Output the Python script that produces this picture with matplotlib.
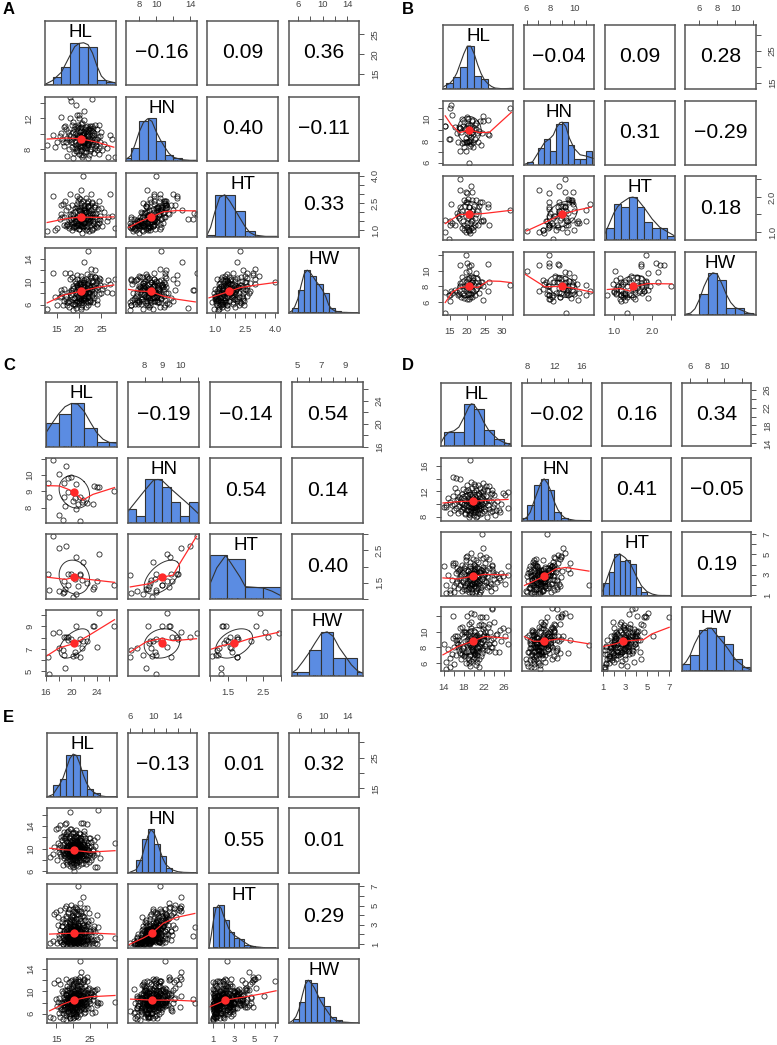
import numpy as np
import matplotlib
matplotlib.use("Agg")
import matplotlib.pyplot as plt

plt.rcParams['font.family'] = ['Liberation Sans', 'DejaVu Sans']

W = 777
H = 1045
NAMES = ["HL", "HN", "HT", "HW"]

A_POINTS = [
(20.8,10.0,4.0,10.0),(22.1,10.6,2.28,15.4),(18.0,14.8,1.9,11.5),(18.1,14.3,1.64,8.5),(22.9,14.5,1.92,8.55),(19.2,13.7,1.6,5.5),
(21.0,13.0,2.1,13.5),(12.8,8.5,0.97,5.3),(28.0,7.0,1.1,10.4),(26.6,7.0,1.75,10.3),(27.5,9.3,1.8,8.0),(14.0,9.8,2.9,11.5),
(14.5,8.3,1.0,7.4),(16.8,11.0,2.6,11.5),(15.8,12.2,2.4,8.6),(16.3,8.9,2.45,5.9),(18.0,12.0,3.0,10.5),(20.4,8.9,3.2,11.0),(23.5,11.1,2.4,12.0),
(22.7,10.5,3.0,12.2),(19.4,12.4,2.9,11.2),(20.0,12.4,2.75,9.8),(27.0,9.8,3.0,9.6),(24.5,11.2,2.6,10.6),(23.0,11.0,2.5,11.0),
(17.2,7.1,1.3,5.9),(18.5,6.9,1.15,5.0),(22.0,6.9,1.4,6.4),(23.3,7.5,1.1,7.2),(24.0,7.9,1.35,6.2),(20.6,8.0,0.85,6.4),
(16.5,8.4,1.3,6.6),(15.0,9.0,1.1,6.0),(15.6,9.7,1.6,7.3),(16.0,10.1,1.9,7.5),(17.1,10.6,2.1,7.0),(17.6,9.9,1.55,8.3),(18.2,9.0,1.45,7.7),
(18.7,10.3,1.85,8.9),(19.0,8.2,1.25,6.1),(19.1,9.1,1.5,7.2),(19.3,7.8,1.2,8.0),(19.5,10.7,2.3,9.5),(19.6,9.5,1.75,7.9),(19.7,8.7,1.4,8.7),
(19.8,11.2,2.2,9.0),(19.9,7.4,1.05,7.0),(20.0,9.9,1.9,8.2),(20.1,8.4,1.3,9.2),(20.2,10.2,2.05,8.8),(20.3,9.2,1.6,7.5),(20.3,7.7,1.5,6.8),
(20.5,10.9,2.5,9.9),(20.5,9.6,1.75,8.4),(20.6,8.6,1.25,7.8),(20.7,11.4,1.95,8.0),(20.8,9.1,1.85,9.4),(20.9,7.2,1.15,6.9),(21.0,10.0,2.2,7.3),
(21.1,8.3,1.4,8.6),(21.2,9.4,1.65,10.0),(21.3,10.6,2.15,9.1),(21.4,8.9,1.55,8.1),(21.5,7.6,1.0,7.6),(21.6,9.7,2.0,10.4),(21.7,11.0,1.75,9.6),
(21.8,8.1,1.2,8.9),(21.9,9.0,1.85,7.4),(22.0,10.3,2.35,10.2),(22.1,8.6,1.6,9.7),(22.2,9.5,1.45,8.3),(22.3,7.3,0.95,8.0),(22.4,10.8,1.95,9.0),
(22.6,9.2,2.1,10.6),(22.7,8.0,1.3,9.3),(22.9,9.9,1.7,7.7),(23.1,8.7,1.5,10.1),(23.3,10.1,2.25,9.5),(23.5,9.3,1.9,8.5),(23.7,8.4,1.25,9.8),
(24.0,10.6,1.6,10.3),(24.2,9.6,2.15,9.0),(24.5,8.2,1.4,7.9),(24.8,9.0,1.8,10.5),(25.2,7.9,1.2,8.8),(25.6,8.7,2.0,9.3),(26.2,8.1,1.5,8.2),
(16.6,10.9,1.7,8.8),(17.3,9.4,1.35,6.4),(17.8,8.0,1.1,6.7),(18.3,11.1,2.4,8.1),(18.6,9.6,1.65,9.2),(18.9,10.6,1.15,7.1),(19.2,8.5,1.7,9.8),
(19.4,9.8,2.45,6.6),(19.7,10.9,2.6,7.5),(20.0,8.8,1.05,6.3),(20.2,9.3,2.7,8.0),(20.4,10.5,1.35,5.6),(20.6,7.0,1.6,6.0),(20.9,10.3,2.6,8.6),
(21.1,9.6,1.25,7.1),(21.3,8.2,2.0,7.0),(21.6,10.4,2.75,8.4),(21.8,9.9,1.05,6.7),(22.0,8.8,2.35,7.5),(22.3,10.6,2.05,7.8),(22.5,7.8,1.55,6.5),
(22.8,9.4,2.55,9.9),(23.0,9.0,1.0,8.7),(23.2,10.8,1.4,9.3),(23.6,8.9,2.3,10.9),(24.1,9.3,1.15,6.9),(24.6,9.7,1.55,9.4),(25.0,10.2,2.2,8.1),
(18.4,9.3,1.0,7.0),(18.8,7.5,1.4,6.2),(19.0,10.0,2.0,10.2),(19.3,9.0,1.1,8.4),(19.6,8.1,1.55,9.0),(19.8,9.7,1.3,7.3),(20.1,10.7,1.65,9.6),
(20.4,8.3,1.95,7.0),(20.7,9.8,1.5,10.4),(21.0,8.8,2.35,9.0),(21.2,10.1,1.45,6.8),(21.5,9.2,1.15,8.2),(21.7,8.5,2.5,8.8),(22.1,9.7,2.6,9.2),
(22.4,8.9,1.7,6.6),(22.8,10.4,1.05,7.6),(23.4,9.8,1.35,8.0),(23.9,8.6,1.95,8.9),(16.2,9.3,1.75,8.0),(17.0,9.0,1.2,7.6),(17.5,10.2,2.25,6.5),
(21.0,7.6,1.4,10.3),(22.5,8.0,1.5,11.0),(19.5,7.7,1.3,10.5),(23.5,8.1,1.7,10.8),(20.3,7.2,1.2,9.6),(24.4,7.4,1.6,10.2),(18.3,8.3,1.35,10.9),(21.8,8.8,1.6,11.4),
(19.0,11.0,2.2,5.9),(20.5,11.3,2.3,6.3),(21.6,10.9,2.0,5.6),(18.5,11.5,1.9,6.2),(22.4,11.0,2.4,6.8),(20.0,12.0,2.1,6.7),(21.0,11.8,2.4,7.2),(23.2,10.3,1.9,6.4),
(17.6,9.2,1.2,5.6),(20.4,9.6,1.2,5.2),(21.9,9.3,1.6,5.9),(19.3,10.1,1.5,6.4),(20.8,9.0,1.4,8.9),(20.0,9.4,1.6,8.9),(21.2,8.9,2.0,8.4),(20.6,9.9,1.8,8.2),
]

B_POINTS = [
(32.3,11.0,1.62,8.15),(13.7,9.35,1.35,4.64),(20.5,6.0,1.03,10.0),(14.6,8.18,0.81,6.9),(18.0,9.2,2.5,8.0),
(13.6,9.4,1.0,7.3),(15.0,8.2,1.2,6.1),(15.0,11.0,1.3,6.9),(15.3,11.3,1.8,7.4),(15.6,10.4,1.25,7.1),
(17.8,7.06,2.2,10.7),(19.7,7.87,1.85,12.0),(19.9,7.87,2.1,11.0),(20.6,7.87,1.7,10.6),(21.0,8.74,2.3,10.7),(19.5,9.2,2.15,9.8),
(20.3,9.5,1.95,8.0),(21.3,9.9,2.15,8.5),(22.6,9.6,1.9,9.7),(24.6,9.85,1.35,8.1),(25.9,9.9,1.8,7.4),(26.0,8.6,1.7,10.8),(23.6,9.8,1.85,8.2),
(24.5,10.3,1.3,6.3),(24.0,7.6,1.3,8.6),(26.3,8.55,1.2,8.6),(16.5,9.3,1.2,7.5),(17.1,8.7,1.55,7.3),(17.6,9.3,1.4,7.0),
(18.0,9.2,1.7,8.4),(18.3,8.8,1.5,6.7),(18.5,7.8,1.1,8.0),(18.8,9.4,1.3,7.2),(19.0,7.4,1.05,7.7),(19.1,7.9,1.2,6.9),(19.3,9.1,1.75,8.1),
(19.5,8.3,1.45,8.5),(19.6,7.05,1.0,7.4),(19.8,8.7,1.6,7.8),(20.0,9.6,1.85,8.7),(20.0,7.9,1.15,6.4),(20.2,8.9,1.4,8.9),(20.4,8.5,1.05,7.2),
(20.5,9.2,1.7,9.1),(20.7,8.1,1.25,6.7),(20.8,7.5,0.98,8.3),(20.9,9.5,1.55,7.6),(21.0,8.4,1.45,9.3),(21.1,9.0,1.1,8.0),(21.2,7.7,1.3,7.0),
(21.3,9.3,1.6,8.6),(21.4,8.8,1.35,6.6),(21.5,9.8,1.9,7.5),(21.6,7.4,1.05,8.8),(21.8,8.6,1.15,9.1),(22.0,9.2,1.75,8.2),(22.2,8.2,1.4,8.5),
(22.5,9.1,1.5,7.7),(22.7,8.7,1.6,9.0),(23.0,7.9,1.2,8.0),(23.4,8.9,1.75,7.1),(24.2,8.7,1.85,8.6),(17.4,7.9,1.45,6.9),(18.6,10.0,1.6,9.2),
(19.2,9.7,1.9,6.5),(19.9,10.2,1.25,8.3),(20.3,10.0,1.05,7.0),(20.6,8.0,1.55,6.35),(21.7,7.9,1.65,7.4),(22.3,9.5,1.2,6.9),
]

C_POINTS = [
(17.1,10.95,2.93,8.4),(24.3,9.25,2.40,10.2),(16.5,8.65,1.30,4.8),(26.8,9.0,1.45,9.0),(18.7,7.25,1.20,6.9),(18.0,7.55,1.26,7.1),
(21.4,7.2,1.76,6.3),(19.2,10.55,2.64,8.1),(18.0,10.05,2.56,8.5),(20.7,9.45,2.30,9.0),(21.8,8.47,2.15,7.7),(20.0,9.9,1.79,7.9),
(19.5,9.8,1.77,8.1),(18.9,9.55,1.55,8.05),(16.3,9.5,1.77,6.3),(20.5,8.6,1.62,6.7),(21.3,8.65,1.77,7.9),(21.7,8.35,1.59,7.1),
(22.4,8.3,1.5,7.7),(21.0,8.25,1.4,7.55),(19.0,8.1,1.32,5.3),(23.4,8.2,1.33,9.0),(23.6,9.35,1.38,9.0),(24.0,9.25,1.55,7.2),
(20.7,7.9,1.16,6.5),(20.3,8.4,1.06,6.4),(18.9,8.65,1.23,6.5),(19.4,8.95,1.45,7.8),
]

D_POINTS = [
(19.3,17.0,2.0,8.3),(21.6,10.9,7.0,11.8),(21.9,13.3,5.6,9.4),(26.9,9.3,3.9,8.4),(14.0,9.5,3.9,8.4),(15.8,14.3,4.1,12.0),(16.4,14.2,3.2,9.0),(17.2,14.0,3.6,7.3),
(14.5,9.9,1.2,5.3),(15.2,8.6,1.2,5.5),(16.0,9.0,1.3,5.9),(14.4,9.6,2.0,6.2),(15.6,9.8,2.5,7.2),(15.9,11.3,4.0,9.2),(16.7,11.9,3.7,9.4),(16.2,12.5,4.1,9.5),
(16.6,10.6,2.4,8.6),(17.3,10.3,2.0,10.4),(17.6,11.6,3.3,10.6),(18.1,9.4,1.6,6.9),(18.4,12.0,4.7,10.0),(18.7,13.0,4.8,12.0),(19.1,8.0,1.3,6.1),(19.4,13.5,5.1,12.3),
(20.1,13.1,3.4,12.2),(20.5,7.9,1.4,6.6),(20.7,8.1,2.4,7.4),(21.0,9.0,1.1,5.5),(21.3,12.5,4.9,11.9),(21.8,12.1,4.6,10.8),(22.5,12.9,4.7,11.8),(23.1,12.8,4.5,11.0),
(23.6,11.7,3.9,13.0),(23.7,12.3,3.6,12.8),(24.3,8.3,1.7,7.4),(25.0,9.1,2.7,7.4),(25.3,8.8,2.5,10.2),(25.9,11.8,2.9,10.5),(26.2,11.5,2.1,9.4),(26.9,11.9,3.0,10.2),
(25.5,10.0,3.2,8.8),(24.7,10.5,2.3,9.7),(24.1,11.4,3.0,8.6),(23.8,9.5,3.3,9.2),(23.3,8.7,2.2,9.9),(23.0,10.7,1.9,8.4),(22.8,9.8,2.8,10.6),(22.5,11.2,3.5,9.5),
(22.3,10.2,3.1,8.2),(22.1,8.9,2.0,9.6),(21.9,11.5,3.8,10.3),(21.7,10.0,2.6,7.3),(21.5,9.4,1.8,8.7),(21.3,11.0,3.3,9.8),(21.1,10.5,2.9,10.8),(20.9,8.5,1.7,7.9),
(20.8,11.8,4.2,8.9),(20.6,10.2,3.0,7.0),(20.5,9.6,2.2,9.2),(20.3,11.3,3.6,9.9),(20.2,10.8,2.7,8.4),(20.1,9.1,1.9,6.8),(20.0,11.9,4.0,10.1),(19.9,10.4,3.2,8.0),
(19.8,8.8,2.5,7.5),(19.7,9.9,2.1,9.0),(19.6,11.1,2.9,7.8),(19.5,10.0,3.5,10.5),(19.4,9.3,1.6,8.1),(19.3,11.6,3.9,9.4),(19.2,10.7,2.4,7.1),(19.1,9.7,3.1,8.6),
(19.0,8.4,1.8,6.4),(18.9,10.9,2.8,9.7),(18.8,10.1,3.4,7.6),(18.7,9.0,2.2,8.3),(18.6,11.4,3.0,8.9),(18.4,9.8,1.5,6.0),(18.3,10.6,2.6,9.9),(18.2,8.6,2.0,7.0),
(18.0,11.0,3.7,8.2),(17.8,9.5,2.3,8.0),(17.6,10.2,1.4,7.2),(17.4,8.9,3.0,6.6),(17.1,9.7,2.7,7.7),(16.9,10.8,1.7,8.1),(16.4,9.4,2.2,7.0),(15.3,10.3,1.5,6.7),
(14.9,11.0,3.0,7.8),(20.4,12.2,3.3,7.6),(20.0,8.3,3.6,9.6),(19.6,12.6,2.1,8.8),(21.2,9.9,1.3,8.0),(21.6,8.6,3.0,7.9),(22.0,12.4,2.4,9.0),(22.7,8.0,2.9,9.3),
(23.4,10.4,1.4,8.9),(24.5,9.0,3.1,9.6),(24.0,10.0,2.6,11.2),(23.0,9.2,3.7,7.6),(18.5,10.4,4.4,7.4),(18.2,11.2,1.9,7.3),(19.2,8.2,3.2,5.7),(19.8,9.3,4.5,6.5),
(20.3,8.8,1.2,7.2),(20.7,10.6,3.8,6.2),(21.0,11.6,2.2,6.6),(21.4,10.3,3.5,11.0),(19.5,10.6,1.9,11.2),(19.0,11.9,2.5,10.9),(20.0,10.0,2.3,7.4),(20.6,9.2,2.8,8.1),
(18.9,9.1,3.4,9.1),(19.3,10.2,2.6,8.5),(19.9,11.0,3.1,8.3),(20.2,9.5,3.9,9.3),(20.8,10.0,2.0,8.8),(21.5,10.6,3.2,9.1),(19.6,9.6,1.2,7.7),(18.1,10.0,3.1,10.0),
(17.0,11.1,3.5,8.9),(16.0,10.0,1.9,8.1),(19.4,8.6,2.9,8.9),(20.1,9.8,3.4,7.2),(20.5,11.0,1.7,9.5),(21.1,9.3,2.5,9.3),(21.8,9.6,3.6,7.7),(22.4,10.5,2.3,8.5),
(18.3,8.4,3.9,8.8),(19.2,8.9,4.2,10.1),(20.4,9.0,4.4,9.0),(21.3,8.4,3.3,8.6),(22.2,9.2,4.1,10.0),(23.6,8.9,4.0,8.0),(17.7,9.2,4.0,9.7),(16.8,8.6,3.4,8.4),
(18.9,12.3,1.6,6.7),(20.2,12.8,1.9,7.3),(21.4,11.9,1.5,6.9),(22.6,12.3,1.8,7.7),(19.7,11.5,1.3,8.2),(23.4,11.6,2.1,8.1),(17.9,12.4,2.5,7.9),(20.9,13.0,2.8,9.1),
(19.4,9.0,2.7,6.3),(20.5,9.9,2.6,5.8),(20.0,9.5,3.0,8.6),(20.7,10.3,2.4,9.6),(19.5,10.4,2.2,9.2),(21.0,9.7,3.3,8.2),(19.1,10.3,3.0,9.3),(20.3,10.7,3.2,8.7),
]

E_POINTS = [
(21.5,11.0,7.0,11.8),(22.2,11.8,2.3,15.4),(19.2,16.5,1.8,8.6),(32.5,11.0,1.65,8.15),(27.5,16.9,2.75,8.0),(22.5,14.6,4.4,13.5),(22.8,14.5,5.9,9.2),
(13.0,8.5,1.1,5.4),(14.0,9.0,1.3,5.2),(14.2,10.3,4.1,11.5),(15.0,13.4,4.3,8.6),(15.6,13.7,3.8,12.0),(16.2,14.2,4.5,11.4),(17.5,14.3,4.8,7.2),(18.0,14.6,5.0,12.2),
(18.6,13.2,4.2,10.3),(19.4,13.5,5.1,10.7),(16.0,9.0,1.3,5.5),(17.0,7.1,1.0,5.0),(18.0,7.6,1.0,4.9),(19.0,6.9,1.0,5.3),(20.2,6.0,1.1,6.5),(21.0,7.1,1.4,5.6),
(26.5,6.8,1.1,6.3),(27.2,6.7,1.0,10.4),(28.0,8.4,1.7,7.9),(27.0,12.0,4.0,7.6),(26.2,11.5,2.9,10.1),(25.7,9.0,1.3,6.2),(24.0,14.4,4.8,12.5),(23.2,12.6,4.8,12.0),
(20.6,12.7,4.9,12.3),(21.0,13.3,4.7,11.7),(22.0,12.6,5.3,12.6),(24.7,11.8,4.2,10.6),(25.2,10.5,3.5,9.7),(26.0,9.6,2.4,9.2),(26.5,10.4,2.2,10.2),(27.0,9.2,1.5,8.2),
(15.7,9.4,1.6,6.1),(16.1,10.6,2.5,7.3),(16.4,8.7,1.2,6.6),(16.7,11.5,2.9,8.0),(16.9,12.3,3.6,7.6),(17.1,9.7,1.8,6.2),(17.2,10.8,2.1,9.0),(17.4,8.3,1.4,6.9),
(17.6,11.9,3.2,8.7),(17.7,9.3,1.5,7.5),(17.9,10.3,1.9,5.8),(18.0,12.5,3.7,9.6),(18.1,8.0,1.1,7.0),(18.2,9.9,2.4,8.3),(18.3,11.1,2.7,7.7),(18.4,8.8,1.3,6.4),
(18.5,10.5,2.0,9.0),(18.6,9.2,1.6,7.9),(18.7,12.0,3.4,8.5),(18.8,7.8,1.2,6.0),(18.9,10.0,1.8,8.1),(19.0,11.3,2.9,7.2),(19.0,8.5,1.5,9.4),(19.1,9.6,1.3,6.8),
(19.2,10.9,3.1,9.9),(19.3,7.4,1.0,7.6),(19.4,12.2,2.6,8.4),(19.4,9.0,2.1,5.9),(19.5,10.3,1.7,8.8),(19.6,8.2,1.4,7.3),(19.6,11.6,3.5,10.5),(19.7,9.4,1.1,8.0),
(19.8,10.7,2.3,6.6),(19.8,8.7,2.0,9.1),(19.9,12.8,4.0,9.4),(19.9,9.8,1.5,7.8),(20.0,7.7,1.2,8.6),(20.0,11.0,2.8,10.9),(20.1,9.1,1.9,6.9),(20.1,10.1,1.3,8.5),
(20.2,8.4,1.6,10.0),(20.2,11.9,3.8,8.2),(20.3,9.7,2.2,7.4),(20.3,7.2,1.1,9.2),(20.4,10.5,2.5,8.9),(20.4,8.9,1.4,6.1),(20.5,12.3,3.0,9.8),(20.5,9.3,1.8,8.3),
(20.6,10.8,1.6,7.1),(20.6,8.1,1.0,7.7),(20.7,11.4,4.3,10.2),(20.7,9.9,2.0,9.0),(20.8,8.6,1.3,8.7),(20.8,10.2,2.7,5.6),(20.9,7.9,1.5,6.7),(20.9,11.7,3.3,9.5),
(21.0,9.5,1.2,8.1),(21.0,10.6,2.1,7.9),(21.1,8.8,1.7,9.7),(21.1,12.1,3.6,8.4),(21.2,9.2,2.4,7.0),(21.2,10.0,1.4,10.7),(21.3,7.6,1.1,8.8),(21.3,11.2,2.6,6.3),
(21.4,9.6,1.9,8.6),(21.4,8.3,1.3,7.5),(21.5,10.4,3.2,9.3),(21.6,12.0,4.1,10.4),(21.6,9.0,1.6,8.0),(21.7,10.9,2.2,11.0),(21.7,8.5,1.0,7.2),(21.8,9.8,1.8,9.6),
(21.9,11.5,2.9,9.0),(21.9,7.8,1.4,6.5),(22.0,10.1,2.3,8.3),(22.0,9.3,1.2,10.1),(22.1,8.9,1.5,7.8),(22.2,10.7,3.4,9.1),(22.3,9.5,2.0,11.3),(22.3,8.0,1.7,8.9),
(22.4,11.3,2.7,8.0),(22.5,9.1,1.1,9.4),(22.6,10.3,2.5,7.3),(22.7,8.6,1.9,10.6),(22.8,12.2,3.9,8.7),(22.9,9.7,1.3,8.5),(23.0,7.5,1.2,9.0),(23.0,10.8,3.0,10.0),
(23.1,9.0,1.6,7.6),(23.2,11.1,2.1,9.7),(23.3,8.4,1.4,8.2),(23.4,10.2,2.6,11.0),(23.5,9.4,1.0,6.9),(23.6,11.8,3.5,9.9),(23.7,8.7,1.8,8.8),(23.8,9.9,2.2,10.3),
(23.9,7.3,1.1,7.4),(24.0,10.6,1.5,9.2),(24.1,9.2,2.9,8.1),(24.2,8.2,1.3,9.8),(24.3,11.0,3.1,7.1),(24.5,9.6,1.7,10.4),(24.6,8.8,2.0,8.6),(24.8,10.3,1.2,9.0),
(25.0,9.3,2.4,8.0),(25.2,7.9,1.5,7.0),(25.4,11.2,1.8,9.6),(25.6,8.5,1.1,10.3),(25.8,9.9,2.6,8.4),(26.1,8.9,1.4,9.2),(24.4,9.8,3.4,9.5),(23.3,10.9,3.8,8.6),
(22.1,11.6,3.7,7.5),(21.2,11.0,4.6,8.9),(20.4,11.2,4.4,7.6),(19.6,10.6,3.9,9.2),(18.9,11.8,4.6,8.0),(17.8,11.4,3.9,9.3),(16.6,10.3,3.3,10.0),(15.4,11.0,3.0,8.2),
(15.2,8.0,1.1,7.4),(15.9,10.1,1.9,8.8),(17.3,12.9,2.3,6.7),(18.3,7.2,1.7,8.9),(19.1,8.0,2.5,8.8),(19.7,7.1,1.6,7.1),(20.1,6.7,1.3,6.2),(20.8,7.4,2.0,8.3),
(21.5,6.9,1.1,7.9),(22.4,7.2,1.3,7.0),(23.5,8.0,2.1,6.3),(24.7,7.6,1.0,8.3),(20.0,9.4,3.0,8.0),(20.3,10.3,3.3,9.6),(20.6,9.0,2.6,7.3),(21.0,9.9,2.8,8.9),
(21.3,8.6,2.2,9.4),(21.6,10.7,3.0,7.7),(19.3,9.5,2.7,7.5),(19.5,8.9,2.3,9.8),(18.8,9.4,2.1,10.7),(18.4,10.1,2.9,6.5),(19.0,10.4,3.3,7.0),(22.6,9.9,3.2,8.9),
(23.1,10.0,2.8,6.8),(22.0,8.4,2.3,10.9),(20.9,10.5,3.6,8.0),(20.5,7.9,1.9,9.5),(21.8,9.1,2.6,6.7),(19.9,8.5,2.4,10.8),(20.2,10.9,1.2,11.5),(21.1,8.0,1.2,11.2),
(19.4,11.1,1.5,11.9),(18.1,10.7,1.3,10.9),(22.9,8.3,1.0,11.6),(24.2,10.0,1.4,11.9),(17.0,9.2,1.0,9.7),(17.6,8.6,1.9,10.3),(23.9,8.9,2.5,7.7),(20.7,8.7,2.9,6.0),
(17.3,11.9,1.2,8.1),(18.0,12.2,1.5,9.3),(19.2,11.9,1.8,7.4),(20.8,12.3,2.0,8.8),(22.3,11.9,1.6,10.0),(23.9,11.4,1.4,7.9),(24.9,11.9,2.3,9.1),(16.3,12.1,2.0,7.9),
(18.2,12.9,1.4,7.0),(20.0,13.0,1.9,6.5),(21.7,12.8,2.4,9.7),(23.3,13.2,3.0,7.9),(19.0,13.5,2.7,8.9),(21.2,11.3,1.1,6.9),(22.8,10.9,1.3,7.4),(18.5,11.0,1.2,9.8),
(17.9,9.0,2.6,8.0),(19.1,8.7,3.2,9.2),(20.3,8.6,3.5,8.0),(21.5,8.9,3.0,9.9),(22.7,9.4,3.9,7.7),(23.8,8.2,2.9,9.4),(18.3,8.5,3.3,10.2),(19.7,8.0,3.8,8.4),
(16.8,9.8,2.9,6.9),(17.3,8.9,2.4,8.2),(20.9,9.5,4.1,7.3),(21.9,9.9,4.4,10.3),(20.0,9.9,4.6,9.0),(18.6,10.2,4.3,7.2),(22.5,10.5,4.2,8.1),(19.4,9.3,3.6,8.6),
(20.4,9.2,1.2,5.4),(19.2,9.9,1.6,5.2),(21.6,9.4,1.9,5.5),(22.0,10.8,1.2,6.0),(18.7,9.0,1.1,5.6),(23.2,9.6,1.7,6.1),(19.9,10.5,2.0,5.3),(21.0,8.9,2.4,5.9),
(17.8,9.6,1.3,6.2),(20.6,11.2,1.9,11.9),(22.2,8.8,1.9,11.9),(19.7,10.2,2.2,12.1),(18.8,9.1,1.6,11.6),(21.4,9.8,2.7,12.2),(23.1,10.4,2.1,12.3),(20.1,8.2,2.6,11.3),
(20.1,9.7,1.5,8.4),(20.4,9.5,2.0,8.1),(20.7,10.0,1.8,8.6),(19.8,9.9,1.6,8.7),(19.5,9.5,2.1,8.3),(20.9,9.2,1.5,8.9),(21.2,9.7,2.4,8.4),(19.2,10.1,2.0,8.0),
(19.9,9.2,1.4,9.1),(20.6,10.4,2.3,7.6),(21.1,10.2,1.7,7.7),(20.2,10.6,1.8,9.1),(19.6,9.0,1.8,7.9),(20.8,9.7,2.5,9.3),(21.6,10.2,1.4,8.3),(18.9,9.7,2.5,8.7),
]

# histogram breaks and bar heights (share of the cell height)
A_BREAKS = [list(range(12, 30, 2)), list(range(6, 16)), [0.5, 1, 1.5, 2, 2.5, 3, 3.5, 4, 4.5], list(range(5, 15))]
A_BARS = [[.02, .12, .28, .66, .60, .60, .08, .05], [.05, .2, .62, .67, .32, .1, .04, .01, .02],
          [.03, .66, .66, .40, .10, .015, .005, .005], [.07, .36, .66, .57, .445, .3, .07, .025, .01]]
B_BREAKS = [list(range(12, 36, 2)), [5.5, 6, 6.5, 7, 7.5, 8, 8.5, 9, 9.5, 10, 10.5, 11, 11.5],
            [.8, 1, 1.2, 1.4, 1.6, 1.8, 2, 2.2, 2.4, 2.6], list(range(4, 13))]
B_BARS = [[.02, .09, .18, .34, .67, .21, .16, .01, 0, 0, .01], [0, .04, 0, .27, .40, .22, .64, .67, .31, .09, .09, .22],
          [.18, .57, .52, .67, .52, .28, .18, .18, .06], [.02, 0, .33, .67, .56, .11, .11, .03]]
C_BREAKS = [list(range(16, 30, 2)), [7, 7.5, 8, 8.5, 9, 9.5, 10, 10.5, 11], [1, 1.5, 2, 2.5, 3], list(range(4, 12))]
C_BARS = [[.37, .51, .67, .30, .07, .07], [.22, .11, .67, .67, .55, .33, .11, .33],
          [.67, .61, .18, .18], [.06, .06, .4, .67, .27, .27, .06]]
D_BREAKS = [list(range(12, 30, 2)), list(range(7, 18)), [1, 1.5, 2, 2.5, 3, 3.5, 4, 4.5, 5, 5.5, 6, 6.5, 7], list(range(5, 14))]
D_BARS = [[.0, .23, .23, .67, .58, .26, .11, .04], [.04, .25, .57, .67, .5, .14, .05, .01, .005, .005],
          [.2, .37, .66, .54, .57, .5, .14, .07, .02, .01, 0, .01], [.11, .25, .64, .67, .54, .42, .19, .07]]
E_BREAKS = [list(range(12, 30, 2)), list(range(6, 14)), [1, 1.5, 2, 2.5, 3, 3.5, 4, 4.5, 5, 5.5], list(range(5, 15))]
E_BARS = [[.01, .18, .28, .66, .66, .42, .12, .06], [.015, .2, .52, .67, .45, .26, .07],
          [.64, .67, .44, .25, .16, .14, .05, .03, .01], [.07, .33, .67, .62, .4, .26, .1, .04, .01]]

# density curves over the histograms
A_CURVE_X = [[12.3, 14, 16, 18, 19, 20, 21, 22, 23, 24, 25, 26, 28.3], [6.5, 7, 7.5, 8, 8.5, 9, 9.5, 10, 10.5, 11, 11.5, 12, 13, 14, 14.8],
             [.62, .8, 1, 1.25, 1.5, 1.75, 2, 2.25, 2.5, 2.75, 3, 3.5, 4.1], [4.6, 5, 5.5, 6, 6.5, 7, 7.5, 8, 8.5, 9, 9.5, 10, 10.5, 11, 11.5, 12, 13, 15.8]]
A_CURVE_Y = [[.01, .07, .2, .47, .6, .65, .66, .63, .5, .3, .14, .07, .03], [.03, .08, .25, .45, .6, .66, .62, .46, .33, .22, .12, .06, .02, .01, .01],
             [.03, .15, .38, .62, .66, .56, .43, .3, .17, .07, .03, .01, .01], [.01, .03, .1, .22, .42, .6, .66, .62, .55, .48, .42, .35, .25, .12, .06, .03, .01, .005]]
B_CURVE_X = [[13, 14, 15, 16, 17, 18, 19, 20, 21, 22, 23, 24, 25, 26, 27, 28, 30, 33], [5.8, 6.5, 7, 7.5, 8, 8.25, 8.5, 8.8, 9, 9.3, 9.6, 10, 10.5, 11, 11.67],
             [.77, .9, 1, 1.1, 1.2, 1.4, 1.5, 1.6, 1.8, 2, 2.2, 2.4, 2.6], [4.38, 5, 5.5, 6, 6.5, 7, 7.5, 8, 8.5, 9, 9.5, 10, 10.5, 11, 11.5, 12.3]]
B_CURVE_Y = [[.03, .06, .09, .15, .25, .4, .55, .67, .67, .55, .38, .24, .14, .08, .04, .015, .005, .01], [.01, .05, .2, .35, .42, .47, .58, .66, .67, .6, .42, .26, .16, .14, .1],
             [.1, .28, .42, .52, .58, .66, .67, .65, .5, .33, .2, .13, .06], [.01, .03, .1, .25, .45, .6, .67, .65, .5, .33, .2, .12, .09, .06, .03, .01]]
C_CURVE_X = [[16, 17, 18, 19, 20, 21, 22, 23, 24, 25, 26, 27.2], [7.06, 7.5, 8, 8.5, 8.75, 9, 9.5, 10, 10.5, 11],
             [1, 1.2, 1.45, 1.6, 1.85, 2, 2.25, 2.5, 2.75, 3], [4.6, 5, 5.5, 6, 6.5, 7, 7.5, 8, 8.5, 9, 9.5, 10, 10.46]]
C_CURVE_Y = [[.22, .37, .51, .62, .67, .66, .55, .38, .22, .12, .07, .06], [.18, .33, .5, .66, .67, .65, .52, .4, .28, .15],
             [.22, .48, .67, .55, .34, .19, .18, .17, .12, .05], [.05, .1, .22, .35, .5, .64, .67, .6, .43, .3, .17, .08, .04]]
D_CURVE_X = [[13.4, 14, 15, 16, 17, 18, 19, 19.5, 20, 21, 22, 23, 24, 25, 26, 27.5], [7.3, 8, 8.5, 9, 9.5, 10, 10.5, 11, 11.5, 12, 12.5, 13, 13.5, 14, 15, 17.3],
             [.9, 1, 1.5, 2, 2.5, 3, 3.5, 4, 4.5, 5, 5.5, 6, 7.2], [5.04, 5.5, 6, 6.5, 7, 7.5, 8, 8.5, 9, 9.5, 10, 10.5, 11, 11.5, 12, 12.5, 13.1]]
D_CURVE_Y = [[.05, .14, .22, .24, .3, .45, .62, .67, .66, .55, .38, .25, .17, .1, .06, .02], [.01, .06, .14, .3, .45, .6, .67, .6, .47, .3, .18, .1, .05, .03, .01, .005],
             [.07, .1, .34, .58, .66, .6, .5, .32, .16, .07, .03, .01, .005], [.08, .14, .25, .42, .55, .63, .67, .67, .58, .5, .42, .33, .23, .15, .1, .05, .02]]
E_CURVE_X = [[12.2, 14, 15, 16, 17, 18, 19, 20, 21, 22, 23, 24, 25, 26, 27, 28, 30, 33], [5.7, 7, 7.5, 8, 8.5, 9, 9.5, 10, 10.5, 11, 11.5, 12, 13, 14, 15, 17],
             [.58, .8, 1, 1.25, 1.5, 1.75, 2, 2.5, 3, 3.5, 4, 4.5, 5, 6, 7], [4.36, 5, 5.5, 6, 6.5, 7, 7.5, 8, 8.5, 9, 9.5, 10, 10.5, 11, 11.5, 12, 13, 15.8]]
E_CURVE_Y = [[0, .04, .12, .2, .3, .45, .6, .67, .65, .52, .35, .22, .13, .08, .05, .02, .005, .005], [0, .05, .13, .25, .42, .57, .67, .62, .5, .35, .22, .13, .05, .02, .01, .005],
             [0, .2, .42, .62, .67, .62, .5, .3, .2, .15, .09, .04, .02, .005, .005], [0, .04, .1, .22, .42, .6, .67, .62, .55, .45, .35, .27, .2, .13, .07, .04, .015, 0]]

# correlations in order HL-HN, HL-HT, HL-HW, HN-HT, HN-HW, HT-HW
A_R = ["\u22120.16", "0.09", "0.36", "0.40", "\u22120.11", "0.33"]
B_R = ["\u22120.04", "0.09", "0.28", "0.31", "\u22120.29", "0.18"]
C_R = ["\u22120.19", "\u22120.14", "0.54", "0.54", "0.14", "0.40"]
D_R = ["\u22120.02", "0.16", "0.34", "0.41", "\u22120.05", "0.19"]
E_R = ["\u22120.13", "0.01", "0.32", "0.55", "0.01", "0.29"]

# red smooth lines, same order of pairs
A_SMOOTH = [([12.8, 17.2, 20.3, 24, 27.8], [9.32, 9.45, 9.36, 8.92, 8.26]), ([12.8, 17.2, 20.3, 24, 27.8], [1.42, 1.64, 1.72, 1.70, 1.73]),
            ([12.8, 16.4, 20.3, 24, 27.8], [6.32, 7.67, 8.31, 9.01, 9.43]), ([6.77, 8.08, 9.34, 10.85, 12.43, 14.6], [1.15, 1.46, 1.72, 2.01, 2.08, 2.06]),
            ([6.77, 8.08, 9.34, 10.85, 12.43, 14.6], [8.66, 8.37, 8.31, 7.49, 6.96, 6.49]), ([.72, 1.25, 1.72, 2.25, 3.08, 4.08], [7.2, 7.78, 8.31, 8.96, 9.43, 9.9])]
B_SMOOTH = [([13.65, 15.4, 17.8, 20.6, 23.6, 26.4, 29.8, 32.7], [10.3, 9.47, 8.76, 9.0, 8.76, 8.79, 9.78, 10.62]), ([13.65, 17.8, 20.6, 25, 32.7], [1.24, 1.5, 1.5, 1.53, 1.62]),
            ([13.65, 15.8, 18.2, 20.6, 23.1, 26, 29.4, 32.7], [5.96, 7.32, 7.86, 8, 7.86, 8.68, 8.64, 8.47]), ([6, 7.54, 8.93, 10.2, 11.45], [1.03, 1.27, 1.5, 1.62, 1.71]),
            ([5.9, 7.54, 8.93, 10.05, 11.59], [9.5, 7.94, 8, 7.73, 7.24]), ([.83, 1.17, 1.43, 1.52, 1.87, 2.52], [7.6, 7.73, 7.4, 7.94, 8.35, 8.31])]
C_SMOOTH = [([16.1, 18.1, 19.4, 20.47, 21.8, 23.4, 26.8], [9.36, 9.34, 9.15, 8.97, 8.47, 8.82, 9.24]), ([16.1, 19.1, 20.47, 22.3, 26.8], [1.68, 1.61, 1.68, 1.62, 1.52]),
            ([16.1, 18.1, 20.47, 22.6, 26.8], [6.38, 7.1, 7.49, 8.15, 9.6]), ([7.19, 8.28, 8.96, 9.6, 9.98, 10.92], [1.38, 1.48, 1.68, 1.74, 2.1, 2.93]),
            ([7.19, 8.09, 8.96, 9.6, 10.92], [6.74, 7.64, 7.94, 7.73, 7.91]), ([1.03, 1.39, 1.7, 2.14, 2.93], [6.98, 7.34, 7.49, 7.94, 8.48])]
D_SMOOTH = [([13.8, 16.8, 19.77, 23.5, 26.9], [10.16, 10.37, 10.47, 10.58, 10.73]), ([13.8, 16.8, 19.77, 22.2, 26.9], [2.68, 2.58, 2.84, 3.03, 2.97]),
            ([13.8, 16.8, 19.77, 22.2, 26.9], [7.08, 8.13, 8.79, 9.38, 9.17]), ([7.66, 9.0, 10.46, 12.14, 13.6, 17], [1.94, 2.35, 2.84, 3.55, 3.71, 3.35]),
            ([7.66, 9, 10.46, 12.6, 17], [9.38, 8.79, 8.79, 9.08, 8.46]), ([1.06, 2.12, 2.85, 4.7, 5.45, 7.03], [8.13, 8.46, 8.79, 9, 9.71, 10.54])]
E_SMOOTH = [([13, 17, 20.2, 25, 32.5], [10.06, 9.82, 9.69, 9.38, 9.63]), ([13, 20.2, 26, 32.5], [2.03, 2.13, 2.13, 2.03]),
            ([13, 17, 20.2, 25, 32.5], [6.54, 7.73, 8.45, 9.05, 9.28]), ([5.83, 8.22, 9.72, 11.56, 13.78, 16.83], [.93, 1.62, 2.13, 3.16, 3.77, 4.18]),
            ([6.1, 9.72, 13.2, 16.83], [8.63, 8.45, 8.45, 8.27]), ([.65, 1.51, 2.19, 3.92, 5.52, 7.06], [7.25, 7.91, 8.45, 8.99, 9.52, 10.12])]

# mean and spread of each variable, for the red dots and the ellipses
A_MEAN = [20.3, 9.34, 1.72, 8.31]
A_SD = [2.7, 1.3, 0.5, 1.6]
B_MEAN = [20.6, 9.0, 1.5, 8.0]
B_SD = [3.4, 1.25, 0.37, 1.4]
C_MEAN = [20.47, 8.97, 1.68, 7.49]
C_SD = [2.4, 1.0, 0.52, 1.3]
D_MEAN = [19.77, 10.47, 2.84, 8.8]
D_SD = [2.8, 1.4, 1.0, 1.7]
E_MEAN = [20.2, 9.69, 2.13, 8.45]
E_SD = [2.8, 1.4, 0.9, 1.6]

# axis limits and ticks
A_LIM = [(12.3, 28.3), (6.46, 14.8), (0.62, 4.15), (4.56, 15.87)]
B_LIM = [(13.0, 33.2), (5.78, 11.67), (0.77, 2.6), (4.38, 12.34)]
C_LIM = [(16.0, 27.2), (7.06, 11.06), (1.01, 3.0), (4.6, 10.46)]
D_LIM = [(13.4, 27.5), (7.3, 17.3), (0.9, 7.2), (5.04, 13.1)]
E_LIM = [(12.2, 33.1), (5.67, 17.2), (0.58, 7.25), (4.36, 15.8)]

A_TICKS = [[15, 20, 25], [8, 10, 12, 14], [1.0, 1.5, 2.0, 2.5, 3.0, 3.5, 4.0], [6, 8, 10, 12, 14]]
B_TICKS = [[15, 20, 25, 30], [6, 7, 8, 9, 10, 11], [1.0, 1.5, 2.0, 2.5], [6, 8, 10, 12]]
C_TICKS = [[16, 18, 20, 22, 24, 26], [8, 9, 10, 11], [1.0, 1.5, 2.0, 2.5, 3.0], [5, 6, 7, 8, 9, 10]]
D_TICKS = [[14, 16, 18, 20, 22, 24, 26], [8, 10, 12, 14, 16], [1, 2, 3, 4, 5, 6, 7], [6, 8, 10, 12]]
E_TICKS = [[15, 20, 25, 30], [6, 8, 10, 12, 14, 16], [1, 2, 3, 4, 5, 6, 7], [6, 8, 10, 12, 14]]

# labels on the x side (bottom/top) and on the y side (left/right)
A_XLAB = [["15", "20", "25"], ["8", "10", "14"], ["1.0", "2.5", "4.0"], ["6", "10", "14"]]
A_YLAB = [["15", "20", "25"], ["8", "12"], ["1.0", "2.5", "4.0"], ["6", "10", "14"]]
B_XLAB = [["15", "20", "25", "30"], ["6", "8", "10"], ["1.0", "2.0"], ["6", "8", "10"]]
B_YLAB = [["15", "25"], ["6", "8", "10"], ["1.0", "2.0"], ["6", "8", "10"]]
C_XLAB = [["16", "20", "24"], ["8", "9", "10"], ["1.5", "2.5"], ["5", "7", "9"]]
C_YLAB = C_XLAB
D_XLAB = [["14", "18", "22", "26"], ["8", "12", "16"], ["1", "3", "5", "7"], ["6", "8", "10"]]
D_YLAB = D_XLAB
E_XLAB = [["15", "25"], ["6", "10", "14"], ["1", "3", "5", "7"], ["6", "10", "14"]]
E_YLAB = E_XLAB

# cell edges in pixels, from the top left corner of the image
A_COLS = [(45, 116), (126, 197), (207, 278), (289, 359)]
A_ROWS = [(21, 85), (97, 161), (173, 237), (248, 313)]
B_COLS = [(443, 513), (524, 594), (605, 675), (685, 756)]
B_ROWS = [(25, 89), (101, 165), (176, 240), (252, 315)]
C_COLS = [(46, 117), (128, 199), (210, 281), (292, 363)]
C_ROWS = [(382, 447), (458, 523), (534, 599), (610, 676)]
D_COLS = [(441, 511), (522, 591), (602, 671), (682, 751)]
D_ROWS = [(383, 446), (458, 521), (532, 596), (607, 671)]
E_COLS = [(47, 117), (128, 197), (209, 278), (289, 359)]
E_ROWS = [(733, 797), (808, 873), (884, 948), (959, 1023)]

FRAME = "#555555"
TEXT = "#444444"
BLUE = "#5b8ce2"
RED = "#ff2a2a"


def make_ax(fig, col, row):
    ax = fig.add_axes([col[0]/W, 1-row[1]/H, (col[1]-col[0])/W, (row[1]-row[0])/H])
    for s in ax.spines.values():
        s.set_color(FRAME)
        s.set_linewidth(1.1)
    ax.set_xticks([])
    ax.set_yticks([])
    return ax


def set_x_axis(ax, ticks, shown, top):
    ax.set_xticks(ticks)
    ax.set_xticklabels([str(t) if str(t) in shown else "" for t in ticks])
    if top:
        ax.xaxis.tick_top()
    ax.tick_params(axis="x", length=3.6, width=0.7, color=FRAME, labelcolor=TEXT, labelsize=6.8, pad=5)


def set_y_axis(ax, ticks, shown, right):
    ax.set_yticks(ticks)
    ax.set_yticklabels([str(t) if str(t) in shown else "" for t in ticks], rotation=90, va="center")
    if right:
        ax.yaxis.tick_right()
    ax.tick_params(axis="y", length=3.6, width=0.7, color=FRAME, labelcolor=TEXT, labelsize=6.8, pad=5)


def draw_panel(fig, cols, rows, points, breaks, bars, curve_x, curve_y, corr, smooth, mean, sd, lim, ticks, xlab, ylab):
    data = list(zip(*points))
    pair = 0
    for j in range(4):
        for i in range(j + 1, 4):
            # lower triangle scatter (x = var j, y = var i)
            ax = make_ax(fig, cols[j], rows[i])
            ax.set_xlim(lim[j])
            ax.set_ylim(lim[i])
            d = np.arccos(float(corr[pair].replace("\u2212", "-")))
            t = np.linspace(0, 2*np.pi, 100)
            ax.plot(mean[j] + sd[j]*np.cos(t + d/2), mean[i] + sd[i]*np.cos(t - d/2), color="#333333", lw=0.7)
            ax.plot(data[j], data[i], "o", mfc="none", mec=(0, 0, 0, 0.85), ms=3.7, mew=0.6)
            ax.plot(smooth[pair][0], smooth[pair][1], color=RED, lw=0.9)
            ax.plot([mean[j]], [mean[i]], "o", color=RED, ms=6, mew=0)
            if j in (0, 2) and i == 3:
                set_x_axis(ax, ticks[j], xlab[j], False)
            if j == 0 and i in (1, 3):
                set_y_axis(ax, ticks[i], ylab[i], False)
            # upper triangle text
            ax = make_ax(fig, cols[i], rows[j])
            ax.set_xlim(lim[i])
            ax.set_ylim(lim[j])
            ax.text(0.5, 0.5, corr[pair], transform=ax.transAxes, ha="center", va="center", fontsize=15.2, color="black")
            if j == 0 and i in (1, 3):
                set_x_axis(ax, ticks[i], xlab[i], True)
            if i == 3 and j in (0, 2):
                set_y_axis(ax, ticks[j], ylab[j], True)
            pair += 1
    # diagonal histograms
    for k in range(4):
        ax = make_ax(fig, cols[k], rows[k])
        ax.set_xlim(lim[k])
        ax.set_ylim(0, 1)
        ax.bar(breaks[k][:-1], bars[k], width=np.diff(breaks[k]), align="edge", color=BLUE, edgecolor="#333333", linewidth=0.8)
        ax.plot(curve_x[k], curve_y[k], color="#333333", lw=0.8)
        ax.vlines(data[k], 0, 0.015, color="black", lw=0.5)
        ax.text(0.5, 0.82, NAMES[k], transform=ax.transAxes, ha="center", va="center", fontsize=13.5, color="black")


fig = plt.figure(figsize=(W/100, H/100), dpi=100)

draw_panel(fig, A_COLS, A_ROWS, A_POINTS, A_BREAKS, A_BARS, A_CURVE_X, A_CURVE_Y, A_R, A_SMOOTH, A_MEAN, A_SD, A_LIM, A_TICKS, A_XLAB, A_YLAB)
draw_panel(fig, B_COLS, B_ROWS, B_POINTS, B_BREAKS, B_BARS, B_CURVE_X, B_CURVE_Y, B_R, B_SMOOTH, B_MEAN, B_SD, B_LIM, B_TICKS, B_XLAB, B_YLAB)
draw_panel(fig, C_COLS, C_ROWS, C_POINTS, C_BREAKS, C_BARS, C_CURVE_X, C_CURVE_Y, C_R, C_SMOOTH, C_MEAN, C_SD, C_LIM, C_TICKS, C_XLAB, C_YLAB)
draw_panel(fig, D_COLS, D_ROWS, D_POINTS, D_BREAKS, D_BARS, D_CURVE_X, D_CURVE_Y, D_R, D_SMOOTH, D_MEAN, D_SD, D_LIM, D_TICKS, D_XLAB, D_YLAB)
draw_panel(fig, E_COLS, E_ROWS, E_POINTS, E_BREAKS, E_BARS, E_CURVE_X, E_CURVE_Y, E_R, E_SMOOTH, E_MEAN, E_SD, E_LIM, E_TICKS, E_XLAB, E_YLAB)

# panel letters
for letter, x, y in [("A", 9, 10), ("B", 408, 9), ("C", 9, 366), ("D", 408, 366), ("E", 8, 718)]:
    fig.text(x/W, 1-y/H, letter, ha="center", va="center", fontsize=12, fontweight="bold", color="black")

fig.savefig("out.png", dpi=100)
